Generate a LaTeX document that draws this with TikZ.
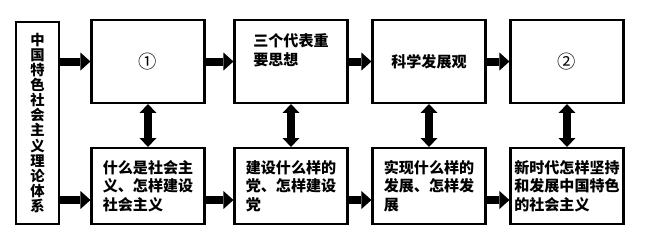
\documentclass[tikz,border=0pt]{standalone}
\usepackage{fontspec}
\setmainfont{Noto Sans CJK SC}
\usetikzlibrary{arrows.meta}

\begin{document}
\begin{tikzpicture}[x=0.025cm, y=-0.025cm,
  box/.style={draw, line width=1.5pt, minimum width=113*0.025cm, align=left, inner sep=0pt,
    font=\bfseries\fontsize{10.7pt}{13.2pt}\selectfont},
  topbox/.style={box, minimum height=83*0.025cm},
  lowbox/.style={box, minimum height=76*0.025cm},
  num/.style={font=\mdseries\fontsize{13pt}{13pt}\selectfont},
  blk/.style={-{Triangle[width=0.45cm, length=0.25cm, line width=0pt]}, line width=0.2cm},
  dbl/.style={{Triangle[width=0.42cm, length=0.22cm, line width=0pt]}-{Triangle[width=0.42cm, length=0.22cm, line width=0pt]}, line width=0.19cm},
]
\useasboundingbox (0,0) rectangle (654,233);

% === LEFT COLUMN ===
\node[draw, line width=1.5pt, minimum width=43*0.025cm, minimum height=202*0.025cm, inner sep=0pt, align=center,
  font=\bfseries\fontsize{10.2pt}{10.7pt}\selectfont] (sys) at (37.5,123)
  {中\\国\\特\\色\\社\\会\\主\\义\\理\\论\\体\\系};

% === TOP ROW (theories) ===
\node[topbox, num] (t1) at (148,61.5) {①};
\node[topbox] (t2) at (291,61.5) {三个代表重\\要思想\\[4pt]};
\node[topbox] (t3) at (429,61.5) {科学发展观};
\node[topbox, num] (t4) at (567,61.5) {②};

% === BOTTOM ROW (questions) ===
\node[lowbox] (b1) at (148,186) {什么是社会主\\义、怎样建设\\社会主义};
\node[lowbox] (b2) at (291,186) {建设什么样的\\党、怎样建设\\党};
\node[lowbox] (b3) at (429,186) {实现什么样的\\发展、怎样发\\展};
\node[lowbox] (b4) at (567,186) {新时代怎样坚持\\和发展中国特色\\的社会主义};

% === CONNECTORS ===
\coordinate (lo) at (0,200);
\draw[blk] (sys.east |- t1.west) -- (t1.west);
\draw[blk] (sys.east |- lo) -- (b1.west |- lo);
\foreach \a/\b in {1/2, 2/3, 3/4} {
  \draw[blk] (t\a.east) -- (t\b.west);
  \draw[blk] (b\a.east |- lo) -- (b\b.west |- lo);
}
\foreach \i in {1,...,4}
  \draw[dbl] (t\i.south) -- (b\i.north);
\end{tikzpicture}
\end{document}
